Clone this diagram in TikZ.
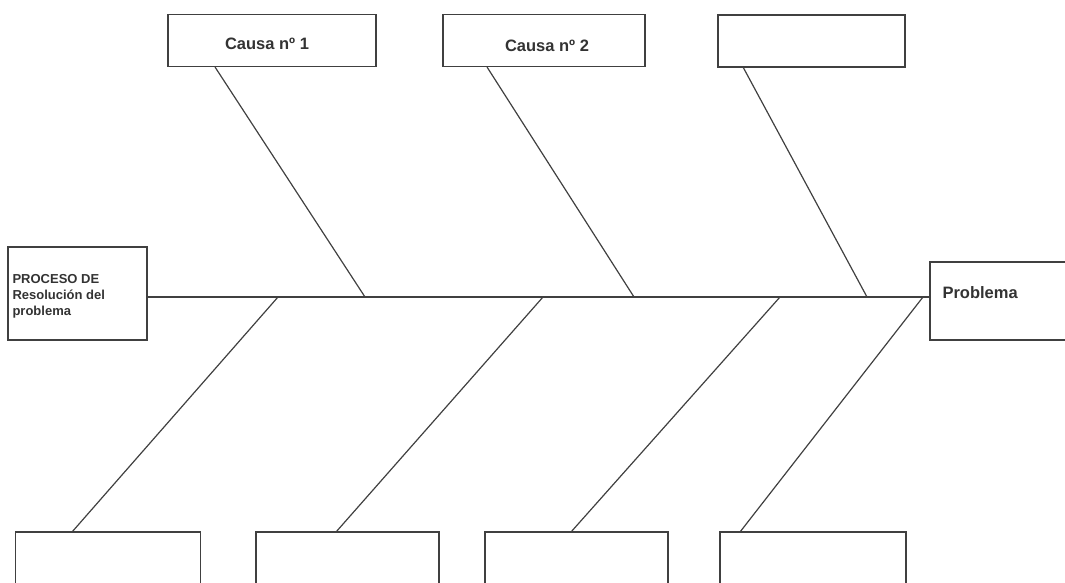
\documentclass[tikz,border=0pt]{standalone}
\usepackage{fontspec}
\setmainfont{Liberation Sans}
\begin{document}
\begin{tikzpicture}[x=1pt,y=-1pt,
  box/.style={draw=black!75,line width=1.2pt,inner sep=0pt,fill=white},
  bone/.style={draw=black!75,line width=1.2pt},
  lbl/.style={font=\fontsize{16.5}{19}\selectfont\bfseries,text=black!80},
  small/.style={font=\fontsize{13}{16}\selectfont\bfseries,text=black!80,align=left}]
\useasboundingbox (0,0) rectangle (1065,582);
% top boxes
\node[box,minimum width=208pt,minimum height=52pt] (t1) at (272,40.5) {};
\node[box,minimum width=202pt,minimum height=52pt] (t2) at (544,40.5) {};
\node[box,minimum width=187pt,minimum height=52pt] (t3) at (811.5,41) {};
\node[lbl] (t1l) at (267,44) {Causa nº 1};
\node[lbl] (t2l) at (547,46) {Causa nº 2};
% side boxes
\node[box,minimum width=139pt,minimum height=93pt] (L) at (77.5,293.5) {};
\node[small,anchor=west] (Ll) at (9,296) {PROCESO DE\\Resolución del\\problema};
\node[box,minimum width=150pt,minimum height=78pt] (R) at (1005,301) {};
\node[lbl,anchor=west] (Rl) at (939,293) {Problema};
% bottom boxes
\node[box,minimum width=185pt,minimum height=70pt] (b1) at (108,567) {};
\node[box,minimum width=183pt,minimum height=70pt] (b2) at (347.5,567) {};
\node[box,minimum width=183pt,minimum height=70pt] (b3) at (576.5,567) {};
\node[box,minimum width=186pt,minimum height=70pt] (b4) at (813,567) {};
% spine
\coordinate (sp) at (0,297);
\draw[bone] (sp -| L.east) -- (sp -| R.west);
% connection coordinates
\coordinate (u1) at (215,67); \coordinate (s1) at (365,297);
\coordinate (u2) at (487,67); \coordinate (s2) at (634,297);
\coordinate (u3) at (743,67); \coordinate (s3) at (867,297);
\coordinate (d1) at (278,297); \coordinate (e1) at (72,532);
\coordinate (d2) at (543,297); \coordinate (e2) at (336,532);
\coordinate (d3) at (780,297); \coordinate (e3) at (571,532);
\coordinate (d4) at (923,297); \coordinate (e4) at (740,532);
\draw[bone] (u1) -- (s1);
\draw[bone] (u2) -- (s2);
\draw[bone] (u3) -- (s3);
\draw[bone] (d1) -- (e1);
\draw[bone] (d2) -- (e2);
\draw[bone] (d3) -- (e3);
\draw[bone] (d4) -- (e4);
\end{tikzpicture}
\end{document}
